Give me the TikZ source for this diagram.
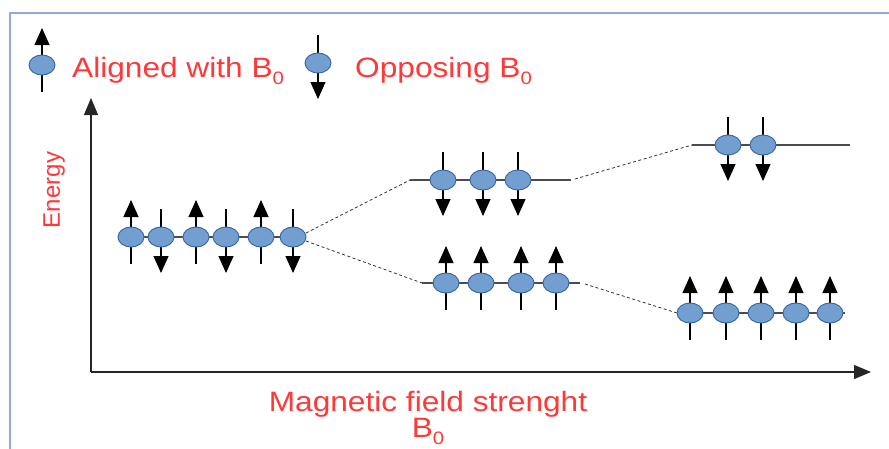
\documentclass[tikz,border=0pt]{standalone}
\usepackage{fontspec}
\setmainfont{Liberation Sans}
\usetikzlibrary{shapes.geometric,arrows.meta}
\definecolor{spinfill}{HTML}{729FCF}
\definecolor{spinborder}{HTML}{3465A4}
\definecolor{lblred}{HTML}{FF3838}
\definecolor{framecol}{HTML}{8FAADC}
\tikzset{
  spin/.style={ellipse, draw=spinborder, fill=spinfill, line width=0.9pt,
    minimum width=26pt, minimum height=20pt, inner sep=0pt},
  spinarrow/.style={line width=1.1pt, black, -{Triangle[length=17pt,width=15pt]}},
  levelline/.style={line width=1.2pt, black!70},
  trans/.style={dash pattern=on 3pt off 2.5pt, line width=0.8pt, black!80},
  axisline/.style={line width=1.2pt, black!85, -{Triangle[length=17pt,width=14pt]}},
  lbl/.style={text=lblred, font=\fontsize{28}{30}\selectfont, inner sep=0pt, anchor=base west}
}
\newcommand\subz{\raisebox{-7pt}{\fontsize{18}{18}\selectfont 0}}
\newcommand\wide[1]{\scalebox{1.13}[1]{#1}}
\newcommand\spinU[3]{\draw[spinarrow] (#2,#3+27) -- (#2,#3-37); \node[spin] (#1) at (#2,#3) {};}
\newcommand\spinD[3]{\draw[spinarrow] (#2,#3-28) -- (#2,#3+36); \node[spin] (#1) at (#2,#3) {};}
\begin{document}
\begin{tikzpicture}[x=1pt,y=-1pt]
\useasboundingbox (0,0) rectangle (889,448);
% frame
\draw[framecol, line width=1.3pt] (10,460) -- (10,13) -- (900,13);
% legend
\spinU{lgu}{42}{65}
\node[lbl] (alig) at (72,77) {\wide{Aligned with B\subz}};
\spinD{lgd}{318}{63}
\node[lbl] (oppo) at (355,77) {\wide{Opposing B\subz}};
% axes
\coordinate (origin) at (91,372);
\coordinate (ytip) at (91,98);
\coordinate (xtip) at (871,372);
\draw[axisline] (origin) -- (ytip);
\draw[axisline] (origin) -- (xtip);
\node[rotate=90, text=lblred, font=\fontsize{24}{26}\selectfont, inner sep=0pt] (energy) at (54,190) {Energy};
\node[lbl, anchor=base] (mag) at (428,411) {\wide{Magnetic field strenght}};
\node[lbl, anchor=base] (bzero) at (428,437) {\wide{B\subz}};
% level lines
\coordinate (l1a) at (118,237); \coordinate (l1b) at (306,237);
\coordinate (u2a) at (410,180); \coordinate (u2b) at (571,180);
\coordinate (d2a) at (422,283); \coordinate (d2b) at (580,283);
\coordinate (u3a) at (692,145); \coordinate (u3b) at (850,145);
\coordinate (d3a) at (677,313); \coordinate (d3b) at (845,313);
\draw[levelline] (l1a) -- (l1b);
\draw[levelline] (u2a) -- (u2b);
\draw[levelline] (d2a) -- (d2b);
\draw[levelline] (u3a) -- (u3b);
\draw[levelline] (d3a) -- (d3b);
% transitions
\coordinate (t1a) at (306,233); \coordinate (t1b) at (306,241);
\draw[trans] (t1a) -- (u2a);
\draw[trans] (t1b) -- (d2a);
\coordinate (t2a) at (575,179); \coordinate (t2b) at (585,284);
\draw[trans] (t2a) -- (u3a);
\draw[trans] (t2b) -- (d3a);
% level 1
\spinU{a1}{131}{237}
\spinD{a2}{161}{237}
\spinU{a3}{196}{237}
\spinD{a4}{226}{237}
\spinU{a5}{261}{237}
\spinD{a6}{293}{237}
% level 2
\spinD{b1}{443}{180}
\spinD{b2}{483}{180}
\spinD{b3}{518}{180}
\spinU{c1}{446}{283}
\spinU{c2}{481}{283}
\spinU{c3}{521}{283}
\spinU{c4}{556}{283}
% level 3
\spinD{d1}{728}{145}
\spinD{d2}{763}{145}
\spinU{e1}{690}{313}
\spinU{e2}{726}{313}
\spinU{e3}{761}{313}
\spinU{e4}{796}{313}
\spinU{e5}{830}{313}
\end{tikzpicture}
\end{document}
